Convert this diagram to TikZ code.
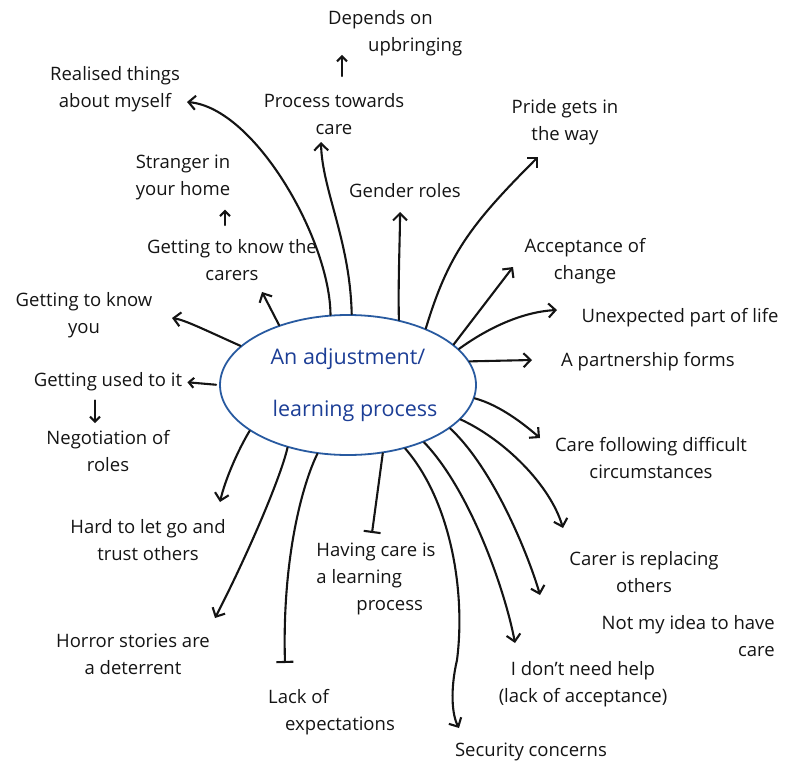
\documentclass[tikz,border=0pt]{standalone}
\usepackage{fontspec}
\setmainfont{Open Sans}
\usetikzlibrary{arrows.meta,shapes.geometric}
\definecolor{ink}{RGB}{20,20,20}
\definecolor{penblue}{RGB}{28,62,150}
\definecolor{rimblue}{RGB}{40,90,160}
\begin{document}
\begin{tikzpicture}[x=1pt,y=-1pt,
  lbl/.style={font=\fontsize{18.5}{27}\selectfont, text=ink, align=center, inner sep=2pt},
  link/.style={draw=ink, line width=2.1pt, line cap=round, line join=round,
    -{Straight Barb[length=7pt,width=14pt]}},
  shortlink/.style={link, -{Straight Barb[length=5pt,width=10pt]}},
  barlink/.style={draw=ink, line width=2.1pt, line cap=round, -{Bar[width=17pt]}},
  hub/.style={ellipse, draw=rimblue, line width=1.8pt, minimum width=256pt,
    minimum height=140pt, inner sep=0pt, text=penblue,
    font=\fontsize{21.5}{52}\selectfont, align=center}]
\useasboundingbox (0,0) rectangle (790,771);

% central idea
\node[hub] (c) at (348,385) {An adjustment/\\\hspace*{14pt}learning process};

% surrounding ideas
\node[lbl, align=left, anchor=west] (dep) at (326,33) {Depends on\\\hspace*{40pt}upbringing};
\node[lbl] (real) at (115,89)  {Realised things\\about myself};
\node[lbl] (proc) at (334,114) {Process towards\\care};
\node[lbl] (strg) at (183,177) {Stranger in\\your home};
\node[lbl] (gtkc) at (232,260) {Getting to know the\\carers};
\node[lbl] (gtky) at (84,315)  {Getting to know\\you};
\node[lbl] (used) at (108,382) {Getting used to it};
\node[lbl] (nego) at (108,451) {Negotiation of\\roles};
\node[lbl] (hard) at (148,540) {Hard to let go and\\trust others};
\node[lbl] (horr) at (133,654) {Horror stories are\\a deterrent};
\node[lbl, align=left, anchor=west] (lack) at (266,712) {Lack of\\\hspace*{17pt}expectations};
\node[lbl, align=left] (havi) at (376,579) {Having care is\\a learning\\\hspace*{40pt}process};
\node[lbl] (secu) at (531,752) {Security concerns};
\node[lbl] (dont) at (583,684) {I don't need help\\(lack of acceptance)};
\node[lbl, align=right, anchor=east] (nmyi) at (777,636) {Not my idea to have\\care};
\node[lbl] (crpl) at (644,572) {Carer is replacing\\others};
\node[lbl] (cfdc) at (651,458) {Care following difficult\\circumstances};
\node[lbl] (part) at (648,362) {A partnership forms};
\node[lbl] (unex) at (680,318) {Unexpected part of life};
\node[lbl] (acce) at (585,261) {Acceptance of\\change};
\node[lbl] (prid) at (565,122) {Pride gets in\\the way};
\node[lbl] (gend) at (405,191) {Gender roles};

% arrow ends beside the labels
\coordinate (real-in) at (187,102);
\coordinate (proc-in) at (321,142);
\coordinate (gend-in) at (400,212);
\coordinate (prid-in) at (538,157);
\coordinate (acce-in) at (513,267);
\coordinate (unex-in) at (557,310);
\coordinate (part-in) at (532,360);
\coordinate (cfdc-in) at (540,438);
\coordinate (crpl-in) at (563,528);
\coordinate (nmyi-in) at (540,595);
\coordinate (dont-in) at (515,643);
\coordinate (secu-in) at (459,728);
\coordinate (havi-in) at (372,533);
\coordinate (lack-in) at (285,663);
\coordinate (horr-in) at (215,618);
\coordinate (hard-in) at (220,502);
\coordinate (gtky-in) at (172,318);
\coordinate (gtkc-in) at (262,292);
% columns of the short follow-on arrows
\coordinate (colA) at (342,0);
\coordinate (colB) at (225,0);
\coordinate (colC) at (95,0);

% branches from the central idea
\draw[link] (c.104) .. controls (330,240) and (255,108) .. (real-in);
\draw[link] (c.87) .. controls (350,240) and (322,190) .. (proc-in);
\draw[link] (c.52) .. controls (398,280) and (400,240) .. (gend-in);
\draw[link] (c.36) .. controls (448,255) and (470,225) .. (prid-in);
\draw[link] (c.21) -- (acce-in);
\draw[link] (c.18) .. controls (485,330) and (520,312) .. (unex-in);
\draw[link] (c.11) -- (part-in);
\draw[link] (c.354) .. controls (500,405) and (525,425) .. (cfdc-in);
\draw[link] (c.343) .. controls (505,440) and (550,485) .. (crpl-in);
\draw[link] (c.337) .. controls (495,470) and (530,560) .. (nmyi-in);
\draw[link] (c.323) .. controls (470,490) and (505,590) .. (dont-in);
\draw[link] (c.312) .. controls (450,500) and (466,590) .. (457,660)
                    .. controls (450,690) and (452,715) .. (secu-in);
\draw[barlink] (c.297) -- (havi-in);
\draw[barlink] (c.246.7) .. controls (302,485) and (282,560) .. (lack-in);
\draw[link] (c.226) .. controls (280,480) and (245,560) .. (horr-in);
\draw[link] (c.205) .. controls (238,450) and (225,480) .. (hard-in);
\draw[shortlink, shorten <=3pt, shorten >=3pt] (c.west) -- (used.east);
\draw[link] (c.160) .. controls (205,330) and (185,320) .. (gtky-in);
\draw[link] (c.139) -- (gtkc-in);

% follow-on arrows between ideas
\draw[shortlink, shorten <=15pt, shorten >=-3pt] (proc.north -| colA) -- (dep.south -| colA);
\draw[shortlink, shorten <=12pt, shorten >=8pt] (gtkc.north -| colB) -- (strg.south -| colB);
\draw[shortlink, shorten <=7pt, shorten >=5pt] (used.south -| colC) -- (nego.north -| colC);
\end{tikzpicture}
\end{document}
